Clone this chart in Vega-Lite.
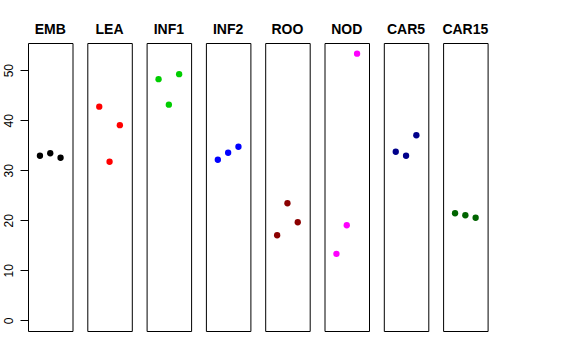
{
  "$schema": "https://vega.github.io/schema/vega-lite/v6.json",
  "padding": {"left": 2, "top": 23, "right": 5, "bottom": 5},
  "background": "white",
  "bounds": "flush",
  "data": {"values": [
    {"group": "EMB", "i": 1, "value": 32.9},
    {"group": "EMB", "i": 2, "value": 33.4},
    {"group": "EMB", "i": 3, "value": 32.5},
    {"group": "LEA", "i": 1, "value": 42.7},
    {"group": "LEA", "i": 2, "value": 31.7},
    {"group": "LEA", "i": 3, "value": 39.0},
    {"group": "INF1", "i": 1, "value": 48.2},
    {"group": "INF1", "i": 2, "value": 43.1},
    {"group": "INF1", "i": 3, "value": 49.2},
    {"group": "INF2", "i": 1, "value": 32.1},
    {"group": "INF2", "i": 2, "value": 33.5},
    {"group": "INF2", "i": 3, "value": 34.7},
    {"group": "ROO", "i": 1, "value": 17.0},
    {"group": "ROO", "i": 2, "value": 23.4},
    {"group": "ROO", "i": 3, "value": 19.6},
    {"group": "NOD", "i": 1, "value": 13.3},
    {"group": "NOD", "i": 2, "value": 19.0},
    {"group": "NOD", "i": 3, "value": 53.3},
    {"group": "CAR5", "i": 1, "value": 33.7},
    {"group": "CAR5", "i": 2, "value": 32.9},
    {"group": "CAR5", "i": 3, "value": 37.0},
    {"group": "CAR15", "i": 1, "value": 21.4},
    {"group": "CAR15", "i": 2, "value": 21.0},
    {"group": "CAR15", "i": 3, "value": 20.5}
  ]},
  "facet": {
    "column": {
      "field": "group",
      "type": "nominal",
      "sort": ["EMB", "LEA", "INF1", "INF2", "ROO", "NOD", "CAR5", "CAR15"],
      "header": {
        "title": null,
        "labelFont": "Liberation Sans",
        "labelFontSize": 14,
        "labelFontWeight": "bold",
        "labelColor": "black",
        "labelPadding": 6
      }
    }
  },
  "spacing": 14.3,
  "spec": {
    "width": 44.5,
    "height": 288,
    "mark": {"type": "point", "filled": true, "size": 40, "opacity": 1},
    "encoding": {
      "x": {
        "field": "i",
        "type": "quantitative",
        "scale": {"domain": [-0.16, 4.16], "nice": false, "zero": false},
        "axis": null
      },
      "y": {
        "field": "value",
        "type": "quantitative",
        "scale": {"domain": [-2.13, 55.43], "nice": false, "zero": false},
        "axis": {
          "title": null,
          "values": [0, 10, 20, 30, 40, 50],
          "domain": false,
          "grid": false,
          "tickSize": 8,
          "tickColor": "black",
          "labelAngle": 270,
          "labelAlign": "center",
          "labelBaseline": "bottom",
          "labelPadding": 5,
          "labelFont": "Liberation Sans",
          "labelFontSize": 12,
          "labelColor": "black"
        }
      },
      "color": {
        "field": "group",
        "type": "nominal",
        "scale": {
          "domain": ["EMB", "LEA", "INF1", "INF2", "ROO", "NOD", "CAR5", "CAR15"],
          "range": ["#000000", "#FF0000", "#00CD00", "#0000FF", "#8B0000", "#FF00FF", "#00008B", "#006400"]
        },
        "legend": null
      }
    }
  },
  "config": {
    "view": {"stroke": "black", "strokeWidth": 1},
    "font": "Liberation Sans"
  }
}
